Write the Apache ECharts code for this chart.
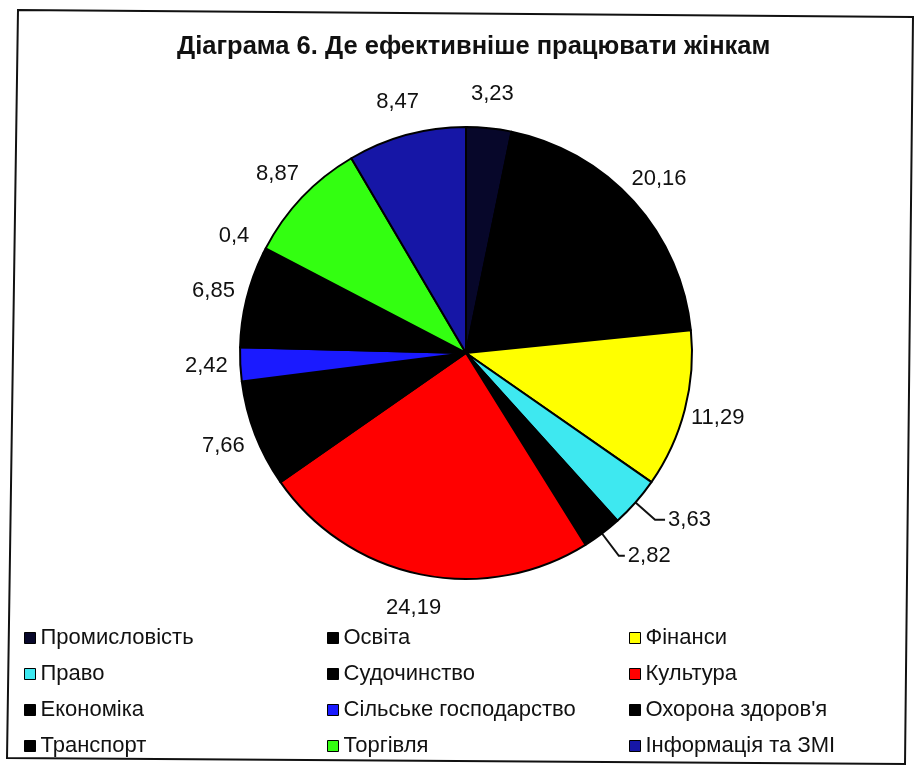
<!DOCTYPE html>
<html>
<head>
<meta charset="utf-8">
<script src="https://cdn.jsdelivr.net/npm/echarts@6/dist/echarts.min.js"></script>
<style>
html, body { margin: 0; padding: 0; background: #fff; }
#chart { width: 914px; height: 766px; }
</style>
</head>
<body>
<div id="chart"></div>
<script>
var titleText = "Діаграма 6. Де ефективніше працювати жінкам";

var categories = [
    "Промисловість", "Освіта", "Фінанси", "Право", "Судочинство", "Культура",
    "Економіка", "Сільське господарство", "Охорона здоров'я", "Транспорт", "Торгівля", "Інформація та ЗМІ"
];
var values = [3.23, 20.16, 11.29, 3.63, 2.82, 24.19, 7.66, 2.42, 6.85, 0.4, 8.87, 8.47];
var colors = [
    "#07072a", "#000000", "#ffff00", "#3ee8f0", "#000000", "#ff0000",
    "#000000", "#1a1aff", "#000000", "#000000", "#33ff11", "#1616a6"
];
// legend columns
var legendCol1 = ["Промисловість", "Право", "Економіка", "Транспорт"];
var legendCol2 = ["Освіта", "Судочинство", "Сільське господарство", "Торгівля"];
var legendCol3 = ["Фінанси", "Культура", "Охорона здоров'я", "Інформація та ЗМІ"];
// slices whose labels hang on elbow lines
var withLine = ["Право", "Судочинство"];

var chart = echarts.init(document.getElementById("chart"));

var textFont = "'Liberation Sans', Arial, sans-serif";

function fmt(p) {
    return String(p.value).replace(".", ",");
}

function makeLegend(list, left) {
    return {
        orient: "vertical",
        left: left,
        top: 622,
        itemWidth: 11,
        itemHeight: 11,
        itemGap: 14,
        icon: "rect",
        selectedMode: false,
        itemStyle: { borderColor: "#000", borderWidth: 1 },
        textStyle: { color: "#111", fontSize: 22, fontFamily: textFont },
        data: list,
    };
}

// main slices; only the two small ones get their own outside label with a line
var pieData = categories.map(function (name, i) {
    var item = {
        name: name,
        value: values[i],
        itemStyle: { color: colors[i] },
        label: { show: false },
    };
    if (name === "Право") {
        item.label = { show: true };
        item.labelLine = { show: true, length: 26, length2: 10 };
    }
    if (name === "Судочинство") {
        item.label = { show: true };
        item.labelLine = { show: true, length: 28, length2: 6 };
    }
    return item;
});

// invisible ring used only to hold centred labels round the pie
var ringData = categories.map(function (name, i) {
    return {
        name: name,
        value: values[i],
        label: { show: withLine.indexOf(name) < 0 },
    };
});

var option = {
    backgroundColor: "#fff",
    animation: false,
    title: {
        text: titleText,
        left: 172,
        top: 29,
        textStyle: { color: "#111", fontSize: 25.5, fontWeight: "bold", fontFamily: textFont },
    },
    graphic: [
        {
            type: "polygon",
            shape: { points: [[18, 10], [913, 17], [905, 764], [7, 758]] },
            style: { fill: "none", stroke: "#111", lineWidth: 2 },
            z: 0,
        },
    ],
    legend: [makeLegend(legendCol1, 19), makeLegend(legendCol2, 322), makeLegend(legendCol3, 624)],
    series: [
        {
            type: "pie",
            center: [466, 353],
            radius: [0, 226],
            startAngle: 90,
            clockwise: true,
            avoidLabelOverlap: false,
            itemStyle: { borderColor: "#000", borderWidth: 2 },
            label: {
                position: "outside",
                color: "#111",
                fontSize: 22,
                fontFamily: textFont,
                distanceToLabelLine: 3,
                formatter: fmt,
            },
            labelLine: {
                show: false,
                lineStyle: { color: "#111", width: 2 },
            },
            emphasis: { disabled: true },
            data: pieData,
        },
        {
            type: "pie",
            silent: true,
            center: [466, 353],
            radius: [226, 288],
            startAngle: 90,
            clockwise: true,
            avoidLabelOverlap: false,
            itemStyle: { color: "rgba(0,0,0,0)", borderWidth: 0 },
            label: {
                position: "inside",
                color: "#111",
                fontSize: 22,
                fontFamily: textFont,
                formatter: fmt,
            },
            labelLine: { show: false },
            emphasis: { disabled: true },
            data: ringData,
        },
    ],
};

chart.setOption(option);
</script>
</body>
</html>
